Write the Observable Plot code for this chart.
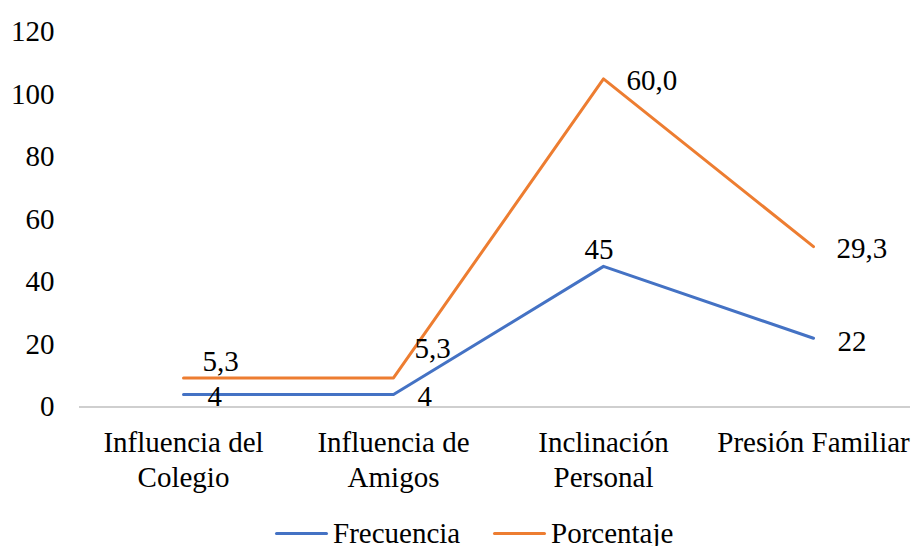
<!DOCTYPE html>
<html>
<head>
<meta charset="utf-8">
<script src="https://cdn.jsdelivr.net/npm/d3@7"></script>
<script src="https://cdn.jsdelivr.net/npm/@observablehq/plot@0.6"></script>
<style>
  html, body { margin: 0; padding: 0; background: #fff; }
  body { width: 914px; height: 546px; overflow: hidden; font-family: "Liberation Serif", "Times New Roman", serif; }
  #chart svg, #chart svg text { font-family: "Liberation Serif", "Times New Roman", serif !important; }
  #legend { position: relative; height: 46px; font-size: 29px; color: #000; }
  .item { position: absolute; top: 0; display: flex; align-items: center; height: 34px; line-height: 34px; }
  .sw { width: 53px; height: 3px; margin-right: 5px; border-radius: 2px; }
</style>
</head>
<body>
<div id="chart"></div>
<div id="legend"></div>
<script>
// ---- data ----
const categories = ["Influencia del Colegio", "Influencia de Amigos", "Inclinación Personal", "Presión Familiar"];
const tickLabels = ["Influencia del\nColegio", "Influencia de\nAmigos", "Inclinación\nPersonal", "Presión Familiar"];
const frecuencia = [4, 4, 45, 22];
const porcentaje = [5.3, 5.3, 60.0, 29.3];
const yTicks = [0, 20, 40, 60, 80, 100, 120];
const seriesNames = ["Frecuencia", "Porcentaje"];
const colors = ["#4472C4", "#ED7D31"];

// label offsets (layout only)
const freqOffsets = [[24, 2], [24, 2], [-19, -17], [24, 3]];
const pctOffsets = [[19, -16], [21, -29], [23, 2], [23, 2]];

const fmt = v => v.toFixed(1).replace(".", ",");

// stacked line (Excel "stacked line")
const rows = [];
categories.forEach((c, i) => {
  rows.push({cat: c, series: seriesNames[0], value: frecuencia[i], top: frecuencia[i], label: String(frecuencia[i]), off: freqOffsets[i]});
});
categories.forEach((c, i) => {
  rows.push({cat: c, series: seriesNames[1], value: porcentaje[i], top: frecuencia[i] + porcentaje[i], label: fmt(porcentaje[i]), off: pctOffsets[i]});
});

const font = '"Liberation Serif", "Times New Roman", serif';
const FS = 29;
const labelMarks = rows.map(r => Plot.text([r], {
  x: "cat", y: "top", text: "label",
  dx: r.off[0], dy: r.off[1], textAnchor: "start", fill: "#000", fontSize: FS
}));

const chart = Plot.plot({
  width: 914,
  height: 500,
  marginLeft: 79,
  marginRight: 4,
  marginTop: 0,
  marginBottom: 93.5,
  style: {fontFamily: font, fontSize: FS + "px", color: "#000", background: "#fff"},
  x: {type: "point", domain: categories, range: [78, 918], padding: 0.5},
  y: {domain: [0, 120], range: [406.5, 31.5]},
  color: {domain: seriesNames, range: colors},
  marks: [
    Plot.ruleY([0], {stroke: "#BFBFBF", strokeWidth: 1.3}),
    Plot.axisY({ticks: yTicks, tickSize: 0, tickPadding: 25, fontSize: FS, label: null}),
    Plot.axisX({tickSize: 0, tickPadding: 20, fontSize: FS, label: null, lineHeight: 1.2,
      tickFormat: d => tickLabels[categories.indexOf(d)]}),
    Plot.line(rows, {x: "cat", y: "top", z: "series", stroke: "series", strokeWidth: 3, strokeLinejoin: "round", strokeLinecap: "round"}),
    ...labelMarks
  ]
});
document.getElementById("chart").appendChild(chart);

// legend
const legend = document.getElementById("legend");
const lefts = [275, 493];
seriesNames.forEach((s, i) => {
  const it = document.createElement("div");
  it.className = "item";
  it.style.left = lefts[i] + "px";
  it.style.top = "16px";
  const sw = document.createElement("div");
  sw.className = "sw";
  sw.style.background = colors[i];
  const t = document.createElement("span");
  t.textContent = s;
  it.appendChild(sw); it.appendChild(t);
  legend.appendChild(it);
});
</script>
</body>
</html>
